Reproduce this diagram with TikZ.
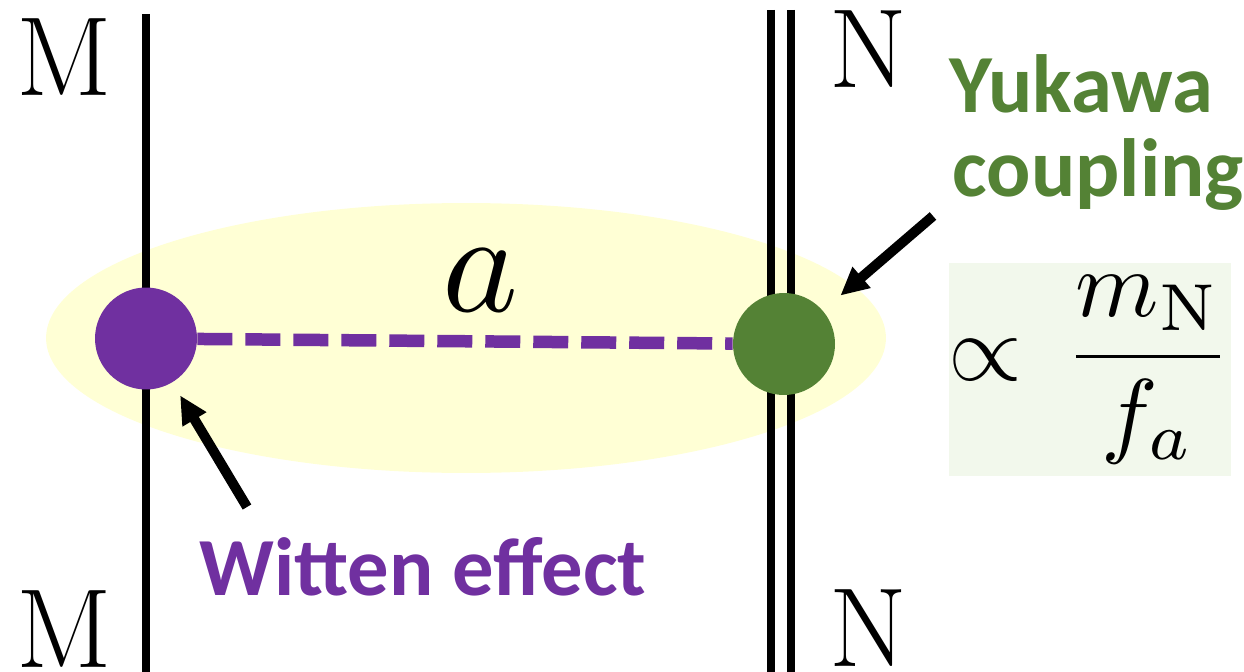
\documentclass[tikz,border=0pt]{standalone}
\usepackage{fontspec}
\newfontfamily\labelfont{Carlito}
\usepackage{graphicx}
\usepackage{tikz}
\usetikzlibrary{arrows.meta,positioning,shapes.geometric}
\definecolor{wpurple}{HTML}{7030A0}
\definecolor{ygreen}{HTML}{548235}
\definecolor{glow}{HTML}{FFFFD5}
\definecolor{boxgreen}{HTML}{F2F8EC}

\begin{document}
\begin{tikzpicture}[
  x=0.02cm, y=-0.02cm,
  brane/.style={line width=0.16cm},
  letter/.style={inner sep=0pt,font=\fontsize{64}{64}\selectfont},
  dot/.style={circle,inner sep=0pt,minimum size=2.04cm},
  lbl/.style={inner sep=0pt,anchor=base,font=\labelfont\bfseries\fontsize{47}{47}\selectfont},
  pointer/.style={-{Triangle[length=0.56cm,width=0.52cm]},line width=0.2cm}
]
\useasboundingbox (0,0) rectangle (1244,672);

\node[ellipse,fill=glow,minimum width=16.8cm,minimum height=5.4cm] (cloud) at (466,338) {};

\draw[brane] (145.5,14) -- (145.5,672);
\draw[brane] (771,10) -- (771,672);
\draw[brane] (790.5,10) -- (790.5,672);

\node[letter] (mtop) at (64.5,57) {M};
\node[letter] (mbot) at (64.5,629) {M};
\node[letter] (ntop) at (868,49) {N};
\node[letter] (nbot) at (868,628) {N};

\node[dot,fill=wpurple] (pdot) at (146,338.5) {};
\node[dot,fill=ygreen] (gdot) at (784,344) {};
\draw[wpurple,line width=0.25cm,dash pattern=on 0.7cm off 0.26cm] (pdot) -- (gdot);

\node[inner sep=0pt] (axion) at (481,280) {\scalebox{8.2}{$a$}};

\node[fill=boxgreen,inner sep=0pt,minimum width=5.52cm,minimum height=4.26cm] (ratio) at (1090,369.5)
  {\scalebox{5.4}{$\displaystyle\propto\mkern3mu\frac{m_{\mathrm{N}}}{f_a}$}};

\node[lbl,text=ygreen] (yukawa) at (1081,113) {Yukawa};
\node[lbl,text=ygreen] (coupling) at (1098,197) {coupling};
\node[lbl,text=wpurple] (witten) at (423,595) {Witten effect};

\coordinate (ytail) at (933,216);
\coordinate (wtail) at (247,507);
\draw[pointer,shorten >=0.46cm] (ytail) -- (gdot);
\draw[pointer,shorten >=0.3cm] (wtail) -- (pdot);
\end{tikzpicture}
\end{document}
